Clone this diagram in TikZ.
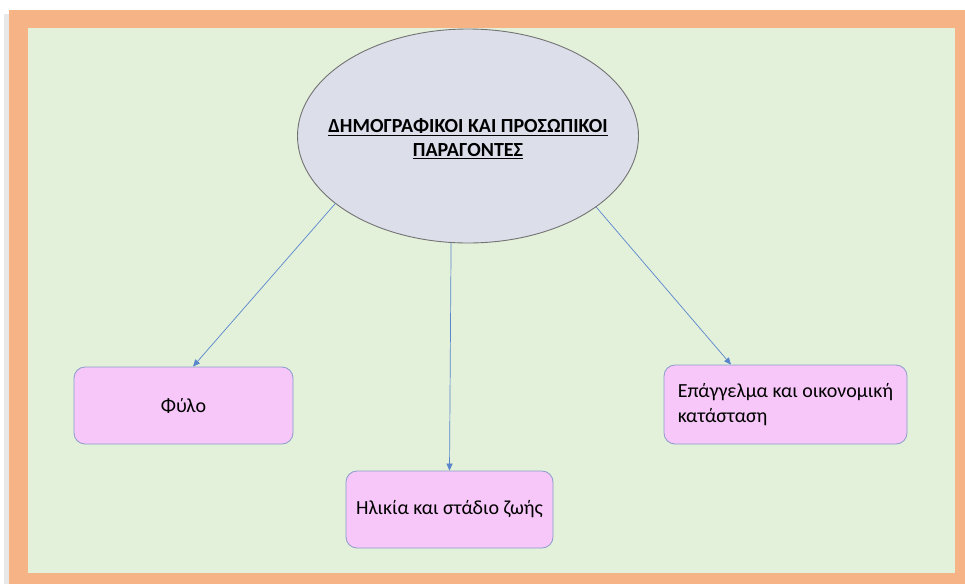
\documentclass[tikz,border=0pt]{standalone}
\usepackage{fontspec}
\setmainfont{Carlito}
\usepackage{tikz}
\usepackage{xcolor}
\usetikzlibrary{positioning, shapes.geometric, arrows.meta}

\definecolor{framec}{HTML}{F6B486}
\definecolor{fieldc}{HTML}{E3F0DA}
\definecolor{ovalc}{HTML}{DCDEEA}
\definecolor{boxc}{HTML}{F6C7F8}
\definecolor{boxline}{HTML}{8A9CCB}
\definecolor{linkc}{HTML}{5A86CC}

\tikzset{
    mainoval/.style={ellipse, draw=gray!90!black, fill=ovalc, line width=0.9pt,
        inner sep=0pt, minimum width=341pt, minimum height=214pt},
    ovaltext/.style={align=center, font={\fontsize{20}{23}\selectfont\bfseries}},
    factor/.style={rectangle, rounded corners=11pt, draw=boxline, fill=boxc,
        line width=0.8pt, font={\fontsize{20}{25}\selectfont}},
    link/.style={draw=linkc, line width=0.7pt, -{Triangle[length=7pt,width=6pt]}}
}

\begin{document}
\begin{tikzpicture}[x=1pt, y=-1pt]
    \useasboundingbox (0,0) rectangle (965,584);
    \fill[white] (0,0) rectangle (965,584);

    % frame and background field
    \fill[gray!18] (4,14) rectangle (9,584);
    \fill[framec] (9,10) rectangle (965,584);
    \fill[fieldc] (28,28) rectangle (955,573);

    % main oval
    \node[mainoval] (ell) at (468,136) {};
    \node[ovaltext] (title) at (468,139)
        {\underline{ΔΗΜΟΓΡΑΦΙΚΟΙ ΚΑΙ ΠΡΟΣΩΠΙΚΟΙ}\\[1pt]\underline{ΠΑΡΑΓΟΝΤΕΣ}};

    % factor boxes
    \node[factor, minimum width=219pt, minimum height=77pt] (sex) at (183.5,405.5) {Φύλο};
    \node[factor, minimum width=207pt, minimum height=77pt] (age) at (449.5,509.5) {Ηλικία και στάδιο ζωής};
    \node[factor, minimum width=243pt, minimum height=79pt, align=left]
        (job) at (785.5,404.5) {Επάγγελμα και οικονομική\\κατάσταση};

    % connectors
    \draw[link] (ell.207.6) -- ([xshift=9.5pt]sex.north);
    \draw[link] (ell.261.5) -- (age.north);
    \draw[link] (ell.331.2) -- ([xshift=-54.5pt]job.north);
\end{tikzpicture}
\end{document}
